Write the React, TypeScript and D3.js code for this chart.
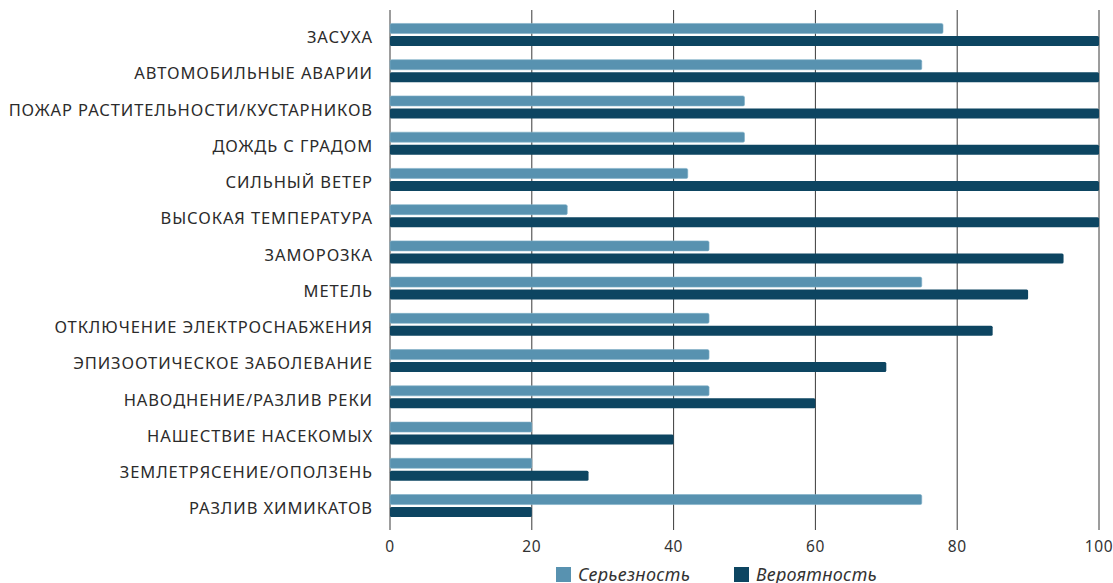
import * as d3 from "d3";
import React from "react";

const categories = [
  "ЗАСУХА",
  "АВТОМОБИЛЬНЫЕ АВАРИИ",
  "ПОЖАР РАСТИТЕЛЬНОСТИ/КУСТАРНИКОВ",
  "ДОЖДЬ С ГРАДОМ",
  "СИЛЬНЫЙ ВЕТЕР",
  "ВЫСОКАЯ ТЕМПЕРАТУРА",
  "ЗАМОРОЗКА",
  "МЕТЕЛЬ",
  "ОТКЛЮЧЕНИЕ ЭЛЕКТРОСНАБЖЕНИЯ",
  "ЭПИЗООТИЧЕСКОЕ ЗАБОЛЕВАНИЕ",
  "НАВОДНЕНИЕ/РАЗЛИВ РЕКИ",
  "НАШЕСТВИЕ НАСЕКОМЫХ",
  "ЗЕМЛЕТРЯСЕНИЕ/ОПОЛЗЕНЬ",
  "РАЗЛИВ ХИМИКАТОВ",
];
const severity = [78, 75, 50, 50, 42, 25, 45, 75, 45, 45, 45, 20, 20, 75];
const probability = [100, 100, 100, 100, 100, 100, 95, 90, 85, 70, 60, 40, 28, 20];
const xTicks = [0, 20, 40, 60, 80, 100];

const seriesNames = ["Серьезность", "Вероятность"];
const colors = ["#5892b0", "#0d4561"];

const W = 1113;
const H = 583;
const font = "'Noto Sans', 'DejaVu Sans', sans-serif";

export default function App() {
  const x = d3.scaleLinear().domain([0, 100]).range([390, 1099]);
  const y = d3.scaleBand<string>().domain(categories).range([10, 530]).paddingOuter(0.175).paddingInner(0);
  const sub = d3.scaleBand<number>().domain([0, 1]).range([-11, 11.5]).paddingInner(0.2);
  const gridTop = 10;
  const gridBottom = 530;

  return (
    <div style={{ position: "fixed", left: 0, top: 0, width: W, height: H, background: "#fff" }}>
      <svg width={W} height={H} style={{ display: "block" }}>
        {xTicks.map((t) => (
          <g key={t}>
            <line x1={x(t)} x2={x(t)} y1={gridTop} y2={gridBottom} stroke="#3a3a3a" strokeWidth={1} />
            <text x={x(t)} y={552} textAnchor="middle" fontFamily={font} fontSize={15.5} letterSpacing={0.6} fill="#333">
              {t}
            </text>
          </g>
        ))}
        {categories.map((c, i) => {
          const cy = y(c)! + y.bandwidth() / 2;
          return (
            <g key={c}>
              <text x={373} y={cy + 8.8} textAnchor="end" fontFamily={font} fontSize={16.5} letterSpacing={0.9} fill="#2b2b2b">
                {c}
              </text>
              {[severity[i], probability[i]].map((v, k) => (
                <rect
                  key={k}
                  x={x(0)}
                  y={cy + sub(k)!}
                  width={x(v) - x(0)}
                  height={sub.bandwidth()}
                  rx={1.5}
                  fill={colors[k]}
                  stroke={k === 0 ? "#7fb0c8" : "none"}
                  strokeWidth={0.6}
                />
              ))}
            </g>
          );
        })}
        {seriesNames.map((s, k) => {
          const lx = [556, 734][k];
          return (
            <g key={s}>
              <rect x={lx} y={567} width={15} height={15} fill={colors[k]} />
              <text x={lx + 22} y={581} fontFamily={font} fontSize={18} letterSpacing={0.3} fontStyle="italic" fill="#333">
                {s}
              </text>
            </g>
          );
        })}
      </svg>
    </div>
  );
}
